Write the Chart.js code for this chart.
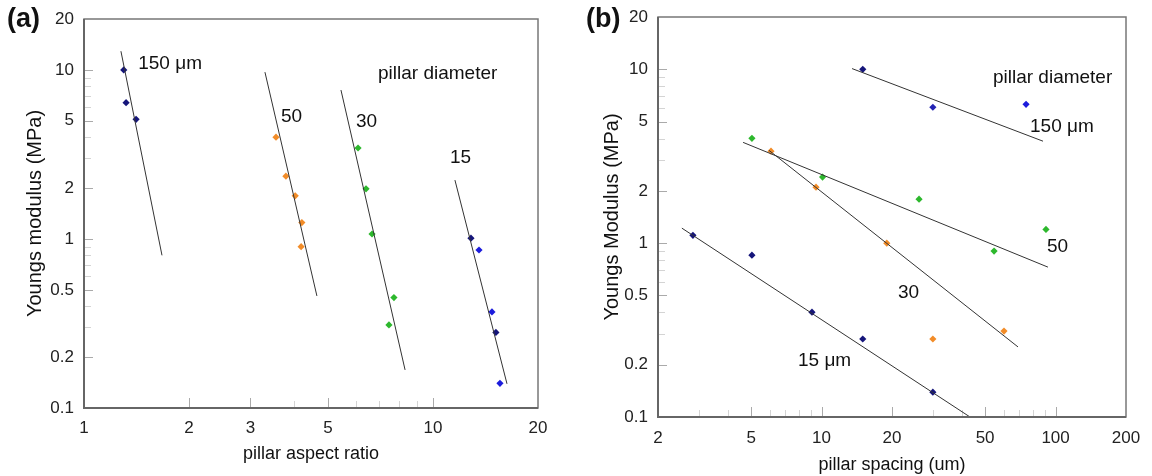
<!DOCTYPE html>
<html>
<head>
<meta charset="utf-8">
<title>Youngs modulus of pillars</title>
<script src="https://cdn.jsdelivr.net/npm/chart.js@4.4.1/dist/chart.umd.min.js"></script>
<style>
  body { margin: 0; width: 1152px; height: 476px; background: #fff; overflow: hidden; position: relative;
         font-family: "Liberation Sans", Arial, sans-serif; }
  .panel { position: absolute; top: 0; width: 576px; height: 476px; }
  .tag { position: absolute; top: 3px; font-weight: bold; font-size: 27px; color: #111; }
</style>
</head>
<body>
<div class="panel" style="left:0"><canvas id="aspectChart"></canvas></div>
<div class="panel" style="left:576px"><canvas id="spacingChart"></canvas></div>
<div class="tag" style="left:7px">(a)</div>
<div class="tag" style="left:586px">(b)</div>
<script>
// ---- panel (a): modulus vs pillar aspect ratio ----
const aspect150 = [1.30, 1.32, 1.41];
const modA150   = [10.0, 6.4, 5.1];
const aspect50  = [3.55, 3.79, 4.03, 4.21, 4.19];
const modA50    = [4.0, 2.35, 1.8, 1.25, 0.9];
const aspect30  = [6.10, 6.43, 6.69, 7.73, 7.48];
const modA30    = [3.45, 1.98, 1.07, 0.45, 0.31];
const aspect15  = [12.85, 13.55, 14.76, 15.15, 15.56];
const modA15    = [1.01, 0.86, 0.37, 0.28, 0.14];

// fitted lines, [x, y] end points
const fitA150 = [[1.276, 12.9], [1.673, 0.80]];
const fitA50  = [[3.30, 9.7], [4.65, 0.46]];
const fitA30  = [[5.45, 7.6], [8.32, 0.168]];
const fitA15  = [[11.56, 2.23], [16.3, 0.139]];

const aspectTicks = [1, 2, 3, 5, 10, 20];

// ---- panel (b): modulus vs pillar spacing ----
const spacing150 = [15.0, 29.9, 74.8];
const modB150    = [10.0, 6.05, 6.29];
const spacing50  = [5.04, 10.1, 26.1, 54.6, 91];
const modB50     = [4.01, 2.40, 1.79, 0.90, 1.20];
const spacing30  = [6.08, 9.47, 19.0, 29.9, 60.2];
const modB30     = [3.38, 2.10, 1.0, 0.281, 0.312];
const spacing15  = [2.82, 5.04, 9.1, 15.0, 29.9];
const modB15     = [1.11, 0.853, 0.401, 0.281, 0.139];

const fitB150 = [[13.5, 10.1], [88.4, 3.86]];
const fitB50  = [[4.62, 3.80], [92.8, 0.728]];
const fitB30  = [[5.96, 3.42], [69.1, 0.253]];
const fitB15  = [[2.53, 1.22], [43.1, 0.1]];

const spacingTicks = [2, 5, 10, 20, 50, 100, 200];
const modulusTicks = [0.1, 0.2, 0.5, 1, 2, 5, 10, 20];

// text labels on the plots: [text, x, y]
const notesA = [['150 \u03bcm', 1.43, 10.9], ['50', 3.67, 5.27], ['30', 6.02, 4.92], ['15', 11.19, 3.04], ['pillar diameter', 6.96, 9.47]];
const notesB = [['pillar diameter', 54.0, 9.0], ['150 \u03bcm', 77.8, 4.70], ['50', 91.9, 0.948], ['30', 21.2, 0.516], ['15 \u03bcm', 7.93, 0.21]];

const NAVY = '#15157a';
const BLUE = '#1c1cdc';
const ORANGE = '#f28c28';
const GREEN = '#2db82d';

Chart.defaults.font.family = '"Liberation Sans", Arial, sans-serif';
Chart.defaults.color = '#222';

function pts(xs, ys) {
  return xs.map((x, i) => ({ x, y: ys[i] }));
}

function dots(xs, ys, color) {
  return {
    data: pts(xs, ys),
    pointStyle: 'rectRot',
    pointRadius: 3.6,
    pointBorderWidth: 0,
    pointBackgroundColor: color,
    showLine: false
  };
}

function fit(line) {
  return {
    data: line.map(p => ({ x: p[0], y: p[1] })),
    showLine: true,
    pointRadius: 0,
    borderColor: '#333',
    borderWidth: 1
  };
}

function logSteps(min, max) {
  const out = [];
  for (let d = Math.floor(Math.log10(min)); d <= Math.ceil(Math.log10(max)); d++) {
    for (let m = 1; m < 10; m++) {
      const v = m * Math.pow(10, d);
      if (v > min * 1.0001 && v < max * 0.9999) out.push(v);
    }
  }
  return out;
}

function isMajor(list, v) {
  return list.some(t => Math.abs(t - v) / t < 1e-6);
}

// inward tick marks + frame round the plot
const frame = {
  id: 'frame',
  beforeDatasetsDraw(chart, args, opts) {
    const { ctx, chartArea: a, scales: { x, y } } = chart;
    ctx.save();
    ctx.lineWidth = 1;
    logSteps(x.min, x.max).forEach(v => {
      const px = Math.round(x.getPixelForValue(v)) + 0.5;
      const major = isMajor(opts.xMajor, v);
      ctx.strokeStyle = major ? '#aaa' : '#d4d4d4';
      ctx.beginPath();
      ctx.moveTo(px, a.bottom);
      ctx.lineTo(px, a.bottom - (major ? 10 : 7));
      ctx.stroke();
    });
    logSteps(y.min, y.max).forEach(v => {
      const py = Math.round(y.getPixelForValue(v)) + 0.5;
      const major = isMajor(opts.yMajor, v);
      ctx.strokeStyle = major ? '#aaa' : '#d4d4d4';
      ctx.beginPath();
      ctx.moveTo(a.left, py);
      ctx.lineTo(a.left + (major ? 9 : 7), py);
      ctx.stroke();
    });
    ctx.restore();
  },
  afterDraw(chart) {
    const { ctx, chartArea: a } = chart;
    ctx.save();
    ctx.strokeStyle = '#777';
    ctx.lineWidth = 1.5;
    ctx.strokeRect(a.left, a.top, a.right - a.left, a.bottom - a.top);
    ctx.strokeStyle = '#666';
    ctx.lineWidth = 2;
    ctx.beginPath();
    ctx.moveTo(a.left, a.top);
    ctx.lineTo(a.left, a.bottom);
    ctx.lineTo(a.right, a.bottom);
    ctx.stroke();
    ctx.restore();
  }
};

// text written inside the plot at data positions
const notes = {
  id: 'notes',
  afterDatasetsDraw(chart, args, opts) {
    const { ctx, scales: { x, y } } = chart;
    ctx.save();
    ctx.font = '19px "Liberation Sans", Arial, sans-serif';
    ctx.fillStyle = '#111';
    ctx.textAlign = 'left';
    ctx.textBaseline = 'middle';
    opts.items.forEach(([text, vx, vy]) => {
      ctx.fillText(text, x.getPixelForValue(vx), y.getPixelForValue(vy));
    });
    ctx.restore();
  }
};

function renderLogChart(canvasId, cfg) {
  const ctx = document.getElementById(canvasId);
  return new Chart(ctx, {
    type: 'scatter',
    data: { datasets: cfg.datasets },
    plugins: [frame, notes],
    options: {
      responsive: true,
      maintainAspectRatio: false,
      animation: false,
      events: [],
      layout: { padding: { left: 0, top: cfg.top, right: cfg.right, bottom: 0 } },
      plugins: {
        legend: { display: false },
        tooltip: { enabled: false },
        frame: { xMajor: cfg.xTicks, yMajor: modulusTicks },
        notes: { items: cfg.notes }
      },
      scales: {
        x: {
          type: 'logarithmic',
          min: cfg.xTicks[0],
          max: cfg.xTicks[cfg.xTicks.length - 1],
          grid: { display: false },
          border: { display: false },
          afterBuildTicks: s => { s.ticks = cfg.xTicks.map(v => ({ value: v })); },
          afterFit: s => { s.height = cfg.xHeight; },
          ticks: {
            autoSkip: false,
            maxRotation: 0,
            padding: cfg.xPad,
            font: { size: 17 },
            callback: v => String(v)
          },
          title: {
            display: true,
            text: cfg.xTitle,
            color: '#111',
            font: { size: 18 },
            padding: { top: 0, bottom: cfg.xTitlePad }
          }
        },
        y: {
          type: 'logarithmic',
          min: 0.1,
          max: 20,
          grid: { display: false },
          border: { display: false },
          afterBuildTicks: s => { s.ticks = modulusTicks.map(v => ({ value: v })); },
          afterFit: s => { s.width = cfg.yWidth; },
          ticks: {
            autoSkip: false,
            padding: 2,
            font: { size: 17 },
            callback: v => String(v)
          },
          title: {
            display: true,
            text: cfg.yTitle,
            color: '#111',
            font: { size: 20 },
            padding: { top: cfg.yTitlePad, bottom: 0 }
          }
        }
      }
    }
  });
}

renderLogChart('aspectChart', {
  top: 19, right: 38, xHeight: 68, yWidth: 84,
  xPad: 2, xTitlePad: 11, yTitlePad: 23,
  xTicks: aspectTicks,
  xTitle: 'pillar aspect ratio',
  yTitle: 'Youngs modulus (MPa)',
  notes: notesA,
  datasets: [
    fit(fitA150), fit(fitA50), fit(fitA30), fit(fitA15),
    dots(aspect150, modA150, NAVY),
    dots(aspect50, modA50, ORANGE),
    dots(aspect30, modA30, GREEN),
    dots(aspect15, modA15, [NAVY, BLUE, BLUE, NAVY, BLUE])
  ]
});

renderLogChart('spacingChart', {
  top: 17, right: 26, xHeight: 59, yWidth: 82,
  xPad: 3, xTitlePad: 0, yTitlePad: 24,
  xTicks: spacingTicks,
  xTitle: 'pillar spacing (um)',
  yTitle: 'Youngs Modulus (MPa)',
  notes: notesB,
  datasets: [
    fit(fitB150), fit(fitB50), fit(fitB30), fit(fitB15),
    dots(spacing150, modB150, [NAVY, '#2424b4', BLUE]),
    dots(spacing50, modB50, GREEN),
    dots(spacing30, modB30, ORANGE),
    dots(spacing15, modB15, NAVY)
  ]
});
</script>
</body>
</html>
